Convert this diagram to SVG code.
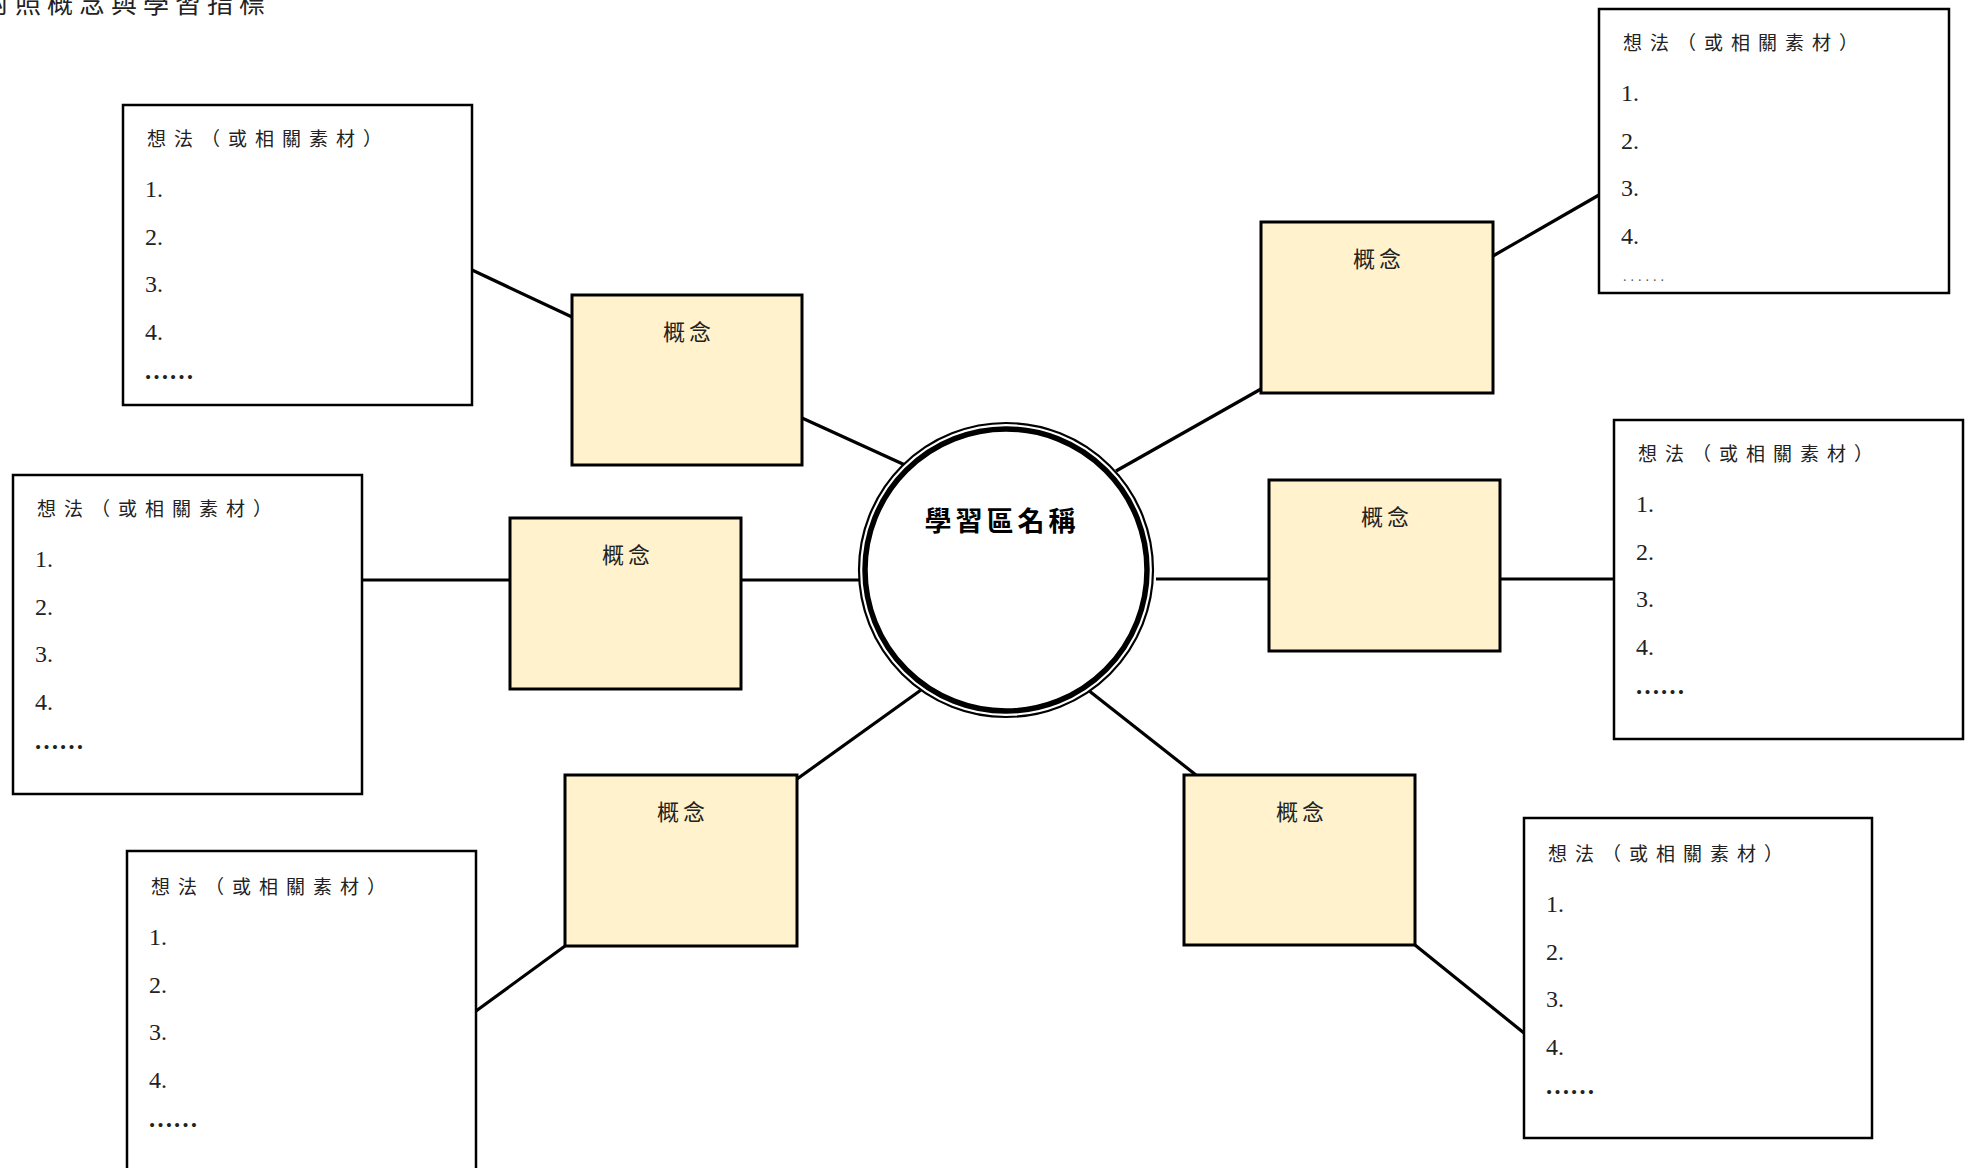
<svg xmlns="http://www.w3.org/2000/svg" width="1970" height="1168" viewBox="0 0 1970 1168">
<style>
.idea{fill:#fff;stroke:#000;stroke-width:2.5}
.concept{fill:#FFF2CC;stroke:#000;stroke-width:3}
.conn line{stroke:#000;stroke-width:3.2}
.t{font-family:"Noto Sans CJK TC","Noto Sans CJK SC",sans-serif;fill:#222}
.ttl{font-size:19px;letter-spacing:8px}
.num{font-family:"Liberation Serif","DejaVu Serif",serif;font-size:24px;fill:#222}
.dots{font-family:"Liberation Serif",serif;font-size:25px;font-weight:bold;fill:#222}
.clab{font-size:22px;letter-spacing:4px;text-anchor:middle}
</style>
<rect width="1970" height="1168" fill="#fff"/>
<text class="t" x="-17" y="13" style="font-size:26px;letter-spacing:6px">對照概念與學習指標</text>

<g id="connectors" class="conn">
<line x1="472" y1="270" x2="572" y2="317"/>
<line x1="802" y1="418" x2="905" y2="465"/>
<line x1="362" y1="580" x2="510" y2="580"/>
<line x1="741" y1="580" x2="859" y2="580"/>
<line x1="476" y1="1011" x2="565" y2="946"/>
<line x1="797" y1="779" x2="921" y2="690"/>
<line x1="1599" y1="195" x2="1493" y2="256"/>
<line x1="1261" y1="389" x2="1116" y2="471"/>
<line x1="1500" y1="579" x2="1614" y2="579"/>
<line x1="1156" y1="579" x2="1269" y2="579"/>
<line x1="1415" y1="945" x2="1524" y2="1033"/>
<line x1="1088" y1="690" x2="1196" y2="775"/>
</g>

<g id="center">
<circle cx="1006" cy="570" r="147" fill="#fff" stroke="#000" stroke-width="2.2"/>
<circle cx="1006" cy="570" r="141" fill="none" stroke="#000" stroke-width="5.5"/>
<text class="t" x="1002" y="531" style="font-size:27px;font-weight:bold;letter-spacing:4px;text-anchor:middle;fill:#000">學習區名稱</text>
</g>

<g id="concept1"><rect class="concept" x="572" y="295" width="230" height="170"/><text class="t clab" x="689" y="340">概念</text></g>
<g id="concept2"><rect class="concept" x="1261" y="222" width="232" height="171"/><text class="t clab" x="1379" y="267">概念</text></g>
<g id="concept3"><rect class="concept" x="510" y="518" width="231" height="171"/><text class="t clab" x="628" y="563">概念</text></g>
<g id="concept4"><rect class="concept" x="1269" y="480" width="231" height="171"/><text class="t clab" x="1387" y="525">概念</text></g>
<g id="concept5"><rect class="concept" x="565" y="775" width="232" height="171"/><text class="t clab" x="683" y="820">概念</text></g>
<g id="concept6"><rect class="concept" x="1184" y="775" width="231" height="170"/><text class="t clab" x="1302" y="820">概念</text></g>

<g id="idea1" transform="translate(123,105)">
<rect class="idea" x="0" y="0" width="349" height="300"/>
<text class="t ttl" x="24" y="41">想法（或相關素材）</text>
<text class="num" x="22" y="92">1.</text><text class="num" x="22" y="140">2.</text><text class="num" x="22" y="187">3.</text><text class="num" x="22" y="235">4.</text>
<text class="dots" x="21" y="274">……</text>
</g>
<g id="idea2" transform="translate(13,475)">
<rect class="idea" x="0" y="0" width="349" height="319"/>
<text class="t ttl" x="24" y="41">想法（或相關素材）</text>
<text class="num" x="22" y="92">1.</text><text class="num" x="22" y="140">2.</text><text class="num" x="22" y="187">3.</text><text class="num" x="22" y="235">4.</text>
<text class="dots" x="21" y="274">……</text>
</g>
<g id="idea3" transform="translate(127,851)">
<rect class="idea" x="0" y="0" width="349" height="330"/>
<text class="t ttl" x="24" y="43">想法（或相關素材）</text>
<text class="num" x="22" y="94">1.</text><text class="num" x="22" y="142">2.</text><text class="num" x="22" y="189">3.</text><text class="num" x="22" y="237">4.</text>
<text class="dots" x="21" y="276">……</text>
</g>
<g id="idea4" transform="translate(1599,9)">
<rect class="idea" x="0" y="0" width="350" height="284"/>
<text class="t ttl" x="24" y="41">想法（或相關素材）</text>
<text class="num" x="22" y="92">1.</text><text class="num" x="22" y="140">2.</text><text class="num" x="22" y="187">3.</text><text class="num" x="22" y="235">4.</text>
<text x="24" y="272" style="font-family:'Liberation Serif',serif;font-size:14px;letter-spacing:4px;fill:#555">......</text>
</g>
<g id="idea5" transform="translate(1614,420)">
<rect class="idea" x="0" y="0" width="349" height="319"/>
<text class="t ttl" x="24" y="41">想法（或相關素材）</text>
<text class="num" x="22" y="92">1.</text><text class="num" x="22" y="140">2.</text><text class="num" x="22" y="187">3.</text><text class="num" x="22" y="235">4.</text>
<text class="dots" x="21" y="274">……</text>
</g>
<g id="idea6" transform="translate(1524,818)">
<rect class="idea" x="0" y="0" width="348" height="320"/>
<text class="t ttl" x="24" y="43">想法（或相關素材）</text>
<text class="num" x="22" y="94">1.</text><text class="num" x="22" y="142">2.</text><text class="num" x="22" y="189">3.</text><text class="num" x="22" y="237">4.</text>
<text class="dots" x="21" y="276">……</text>
</g>
</svg>
